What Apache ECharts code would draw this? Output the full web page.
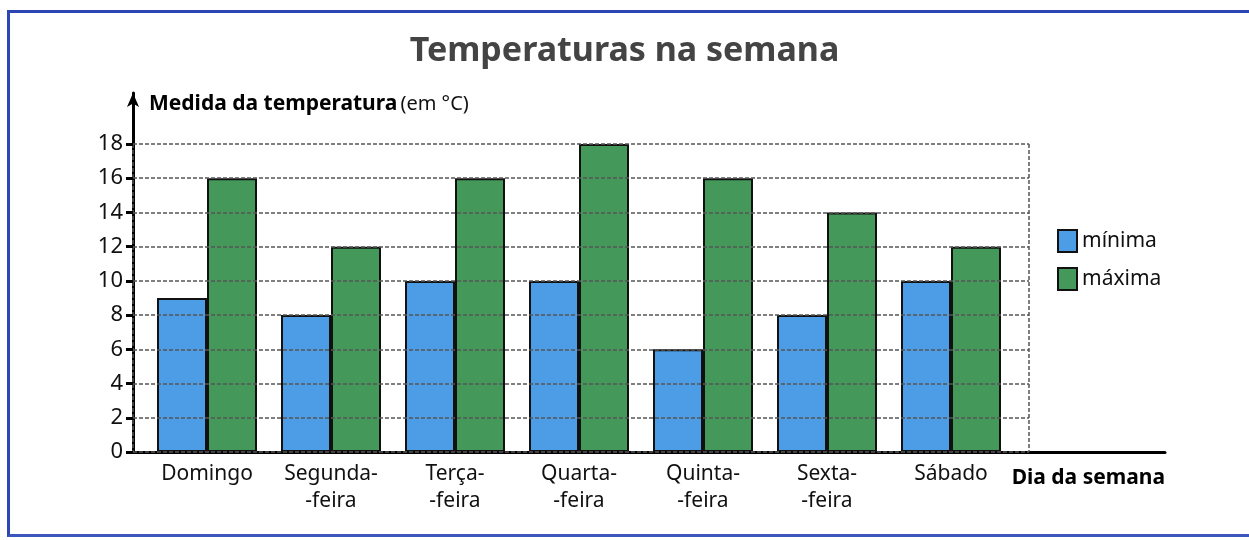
<!DOCTYPE html>
<html>
<head>
<meta charset="utf-8">
<title>Temperaturas na semana</title>
<script src="https://cdn.jsdelivr.net/npm/echarts@6/dist/echarts.min.js"></script>
<style>
	html, body { margin: 0; padding: 0; background: #fff; }
	#frame { position: absolute; left: 7px; top: 10px; width: 1240px; height: 521px;
		border-top: 3px solid #2c46b4; border-left: 3px solid #2c46b4; border-bottom: 3px solid #3a55bd; }
	#main { position: absolute; left: 0; top: 0; width: 1249px; height: 540px; }
</style>
</head>
<body>
<div id="frame"></div>
<div id="main"></div>
<script>
var dias = ['Domingo', 'Segunda-\n-feira', 'Terça-\n-feira', 'Quarta-\n-feira', 'Quinta-\n-feira', 'Sexta-\n-feira', 'Sábado'];
var minima = [9, 8, 10, 10, 6, 8, 10];
var maxima = [16, 12, 16, 18, 16, 14, 12];
var yMin = 0, yMax = 18, yStep = 2;

var fonte = '"Noto Sans", "DejaVu Sans", sans-serif';
var corAzul = '#4d9de6';
var corVerde = '#43985a';
var tracejado = { color: '#555', width: 1.5, type: [4, 2] };

// grid 0: eixos com seta, grid 1: linhas tracejadas, grid 2: barras
var myChart = echarts.init(document.getElementById('main'));
myChart.setOption({
	animation: false,
	textStyle: { fontFamily: fonte, color: '#111' },
	title: {
		text: 'Temperaturas na semana',
		left: 'center',
		top: 29,
		textStyle: { fontFamily: fonte, fontSize: 34, fontWeight: 'bold', color: '#444' }
	},
	legend: {
		orient: 'vertical',
		left: 1052,
		top: 224,
		icon: 'rect',
		itemWidth: 19,
		itemHeight: 22,
		itemGap: 14,
		textStyle: { fontFamily: fonte, fontSize: 21, color: '#111' },
		data: ['mínima', 'máxima']
	},
	grid: [
		{ left: 133, right: 84, top: 93, bottom: 88 },
		{ left: 133, right: 220, top: 144, bottom: 88 },
		{ left: 145, right: 236, top: 144, bottom: 88 }
	],
	xAxis: [
		{
			type: 'value', gridIndex: 0, min: 0, max: 1,
			axisLine: { show: true, onZero: false, lineStyle: { color: '#000', width: 3 } },
			axisTick: { show: false }, axisLabel: { show: false }, splitLine: { show: false },
			name: 'Dia da semana',
			nameLocation: 'end',
			nameGap: 0,
			nameTextStyle: { fontFamily: fonte, fontSize: 21, fontWeight: 'bold', color: '#000',
				align: 'right', verticalAlign: 'top', padding: [16, 0, 0, 0] }
		},
		{
			type: 'value', gridIndex: 1, min: 0, max: 1, interval: 1, z: 5,
			axisLine: { show: false }, axisTick: { show: false }, axisLabel: { show: false },
			splitLine: { show: true, lineStyle: tracejado }
		},
		{
			type: 'category', gridIndex: 2, data: dias,
			axisLine: { show: false }, axisTick: { show: false },
			axisLabel: { fontFamily: fonte, fontSize: 21, color: '#111', margin: 9, lineHeight: 27, interval: 0 }
		}
	],
	yAxis: [
		{
			type: 'value', gridIndex: 0, min: 0, max: 1,
			axisLine: { show: true, symbol: ['none', 'arrow'], symbolSize: [9, 14], lineStyle: { color: '#000', width: 3 } },
			axisTick: { show: false }, axisLabel: { show: false }, splitLine: { show: false },
			name: '{b|Medida da temperatura} {n|(em °C)}',
			nameLocation: 'end',
			nameGap: -11,
			nameTextStyle: {
				align: 'left', verticalAlign: 'middle', padding: [0, 0, 0, 16],
				rich: {
					b: { fontFamily: fonte, fontSize: 21, fontWeight: 'bold', color: '#000' },
					n: { fontFamily: fonte, fontSize: 20, color: '#111' }
				}
			}
		},
		{
			type: 'value', gridIndex: 1, min: yMin, max: yMax, interval: yStep, z: 5,
			axisLine: { show: false },
			axisTick: { show: true, length: 7, lineStyle: { color: '#000', width: 3 } },
			axisLabel: { fontFamily: fonte, fontSize: 22, color: '#111', margin: 10 },
			splitLine: { show: true, lineStyle: tracejado }
		},
		{
			type: 'value', gridIndex: 2, min: yMin, max: yMax, interval: yStep,
			axisLine: { show: false }, axisTick: { show: false }, axisLabel: { show: false },
			splitLine: { show: false }
		}
	],
	series: [
		{
			name: 'mínima', type: 'bar', xAxisIndex: 2, yAxisIndex: 2,
			barWidth: 50, barGap: '0%',
			itemStyle: { color: corAzul, borderColor: '#111', borderWidth: 2 },
			data: minima
		},
		{
			name: 'máxima', type: 'bar', xAxisIndex: 2, yAxisIndex: 2,
			barWidth: 50, barGap: '0%',
			itemStyle: { color: corVerde, borderColor: '#111', borderWidth: 2 },
			data: maxima
		}
	]
});
</script>
</body>
</html>
